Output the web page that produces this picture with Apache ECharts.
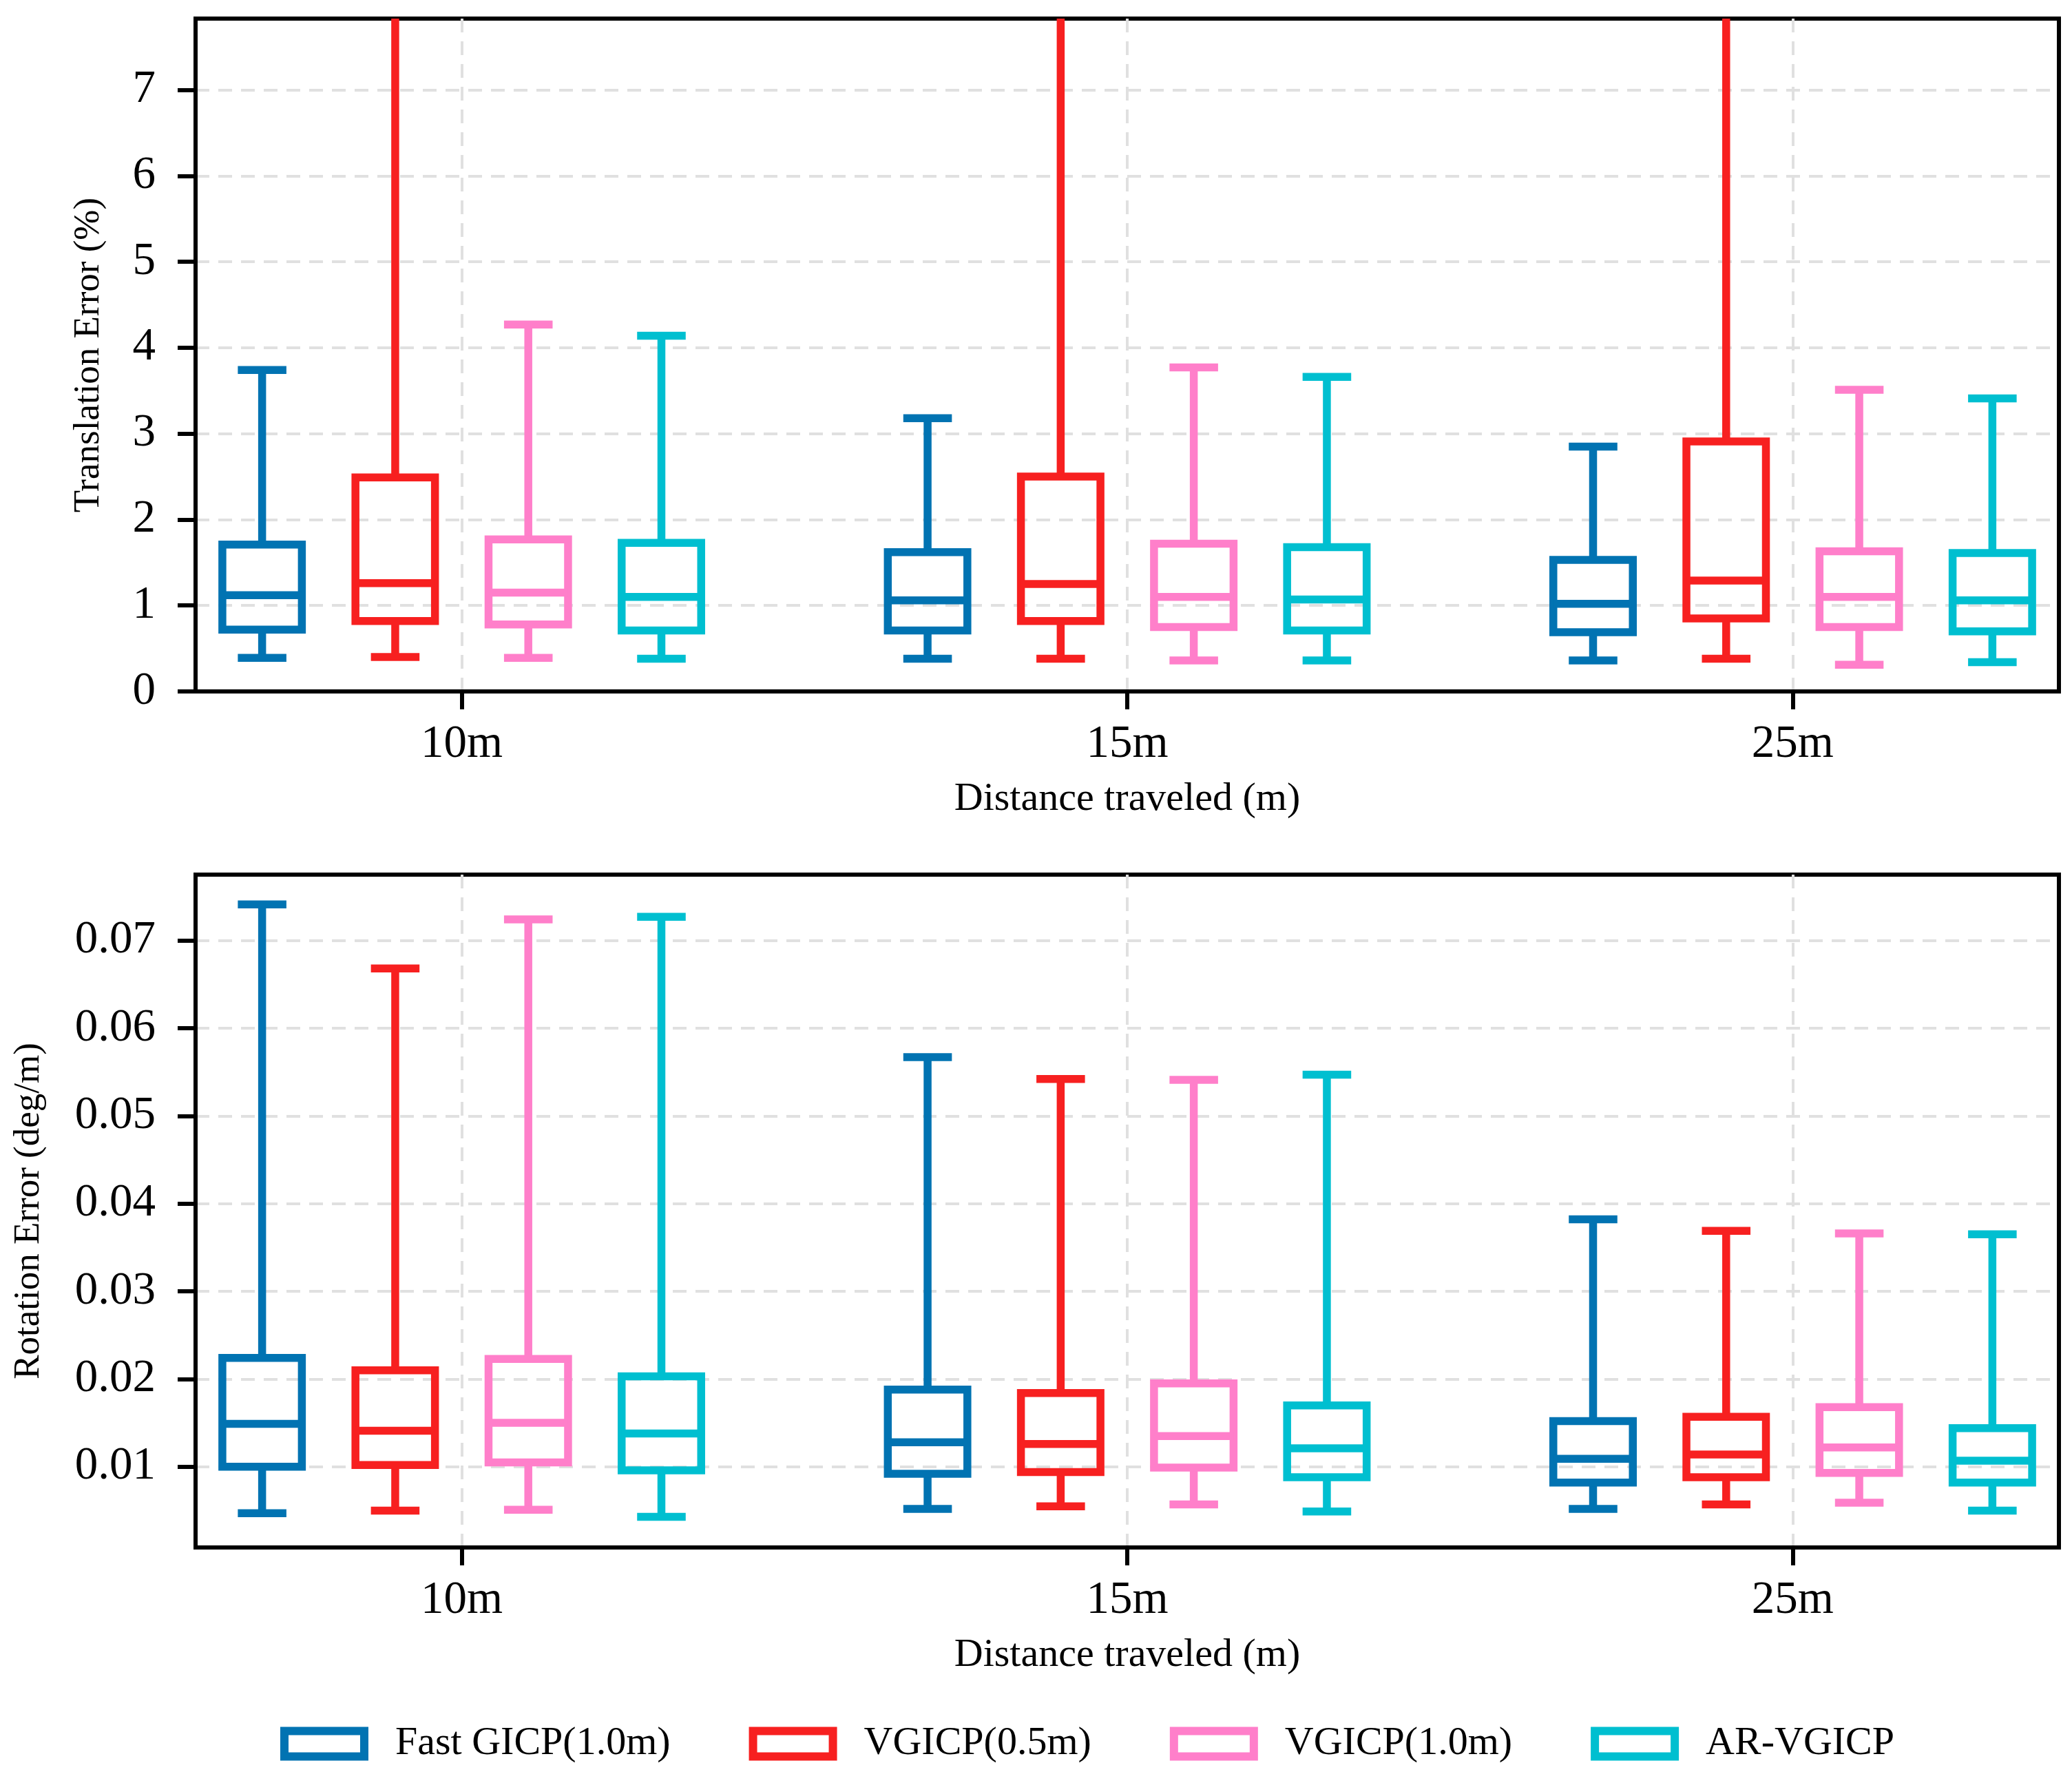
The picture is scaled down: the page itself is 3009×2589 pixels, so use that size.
<!DOCTYPE html>
<html>
<head>
<meta charset="utf-8">
<script src="https://cdn.jsdelivr.net/npm/echarts@6/dist/echarts.min.js"></script>
<style>html,body{margin:0;padding:0;background:#fff}#chart{width:3009px;height:2589px}</style>
</head>
<body>
<div id="chart"></div>
<script>
// ---------------- data ----------------
const categories = ['10m', '15m', '25m'];
const methods = ['Fast GICP(1.0m)', 'VGICP(0.5m)', 'VGICP(1.0m)', 'AR-VGICP'];

// each row: [min, Q1, median, Q3, max] for 10m, 15m, 25m
const transFastGICP10 = [[0.39, 0.72, 1.12, 1.71, 3.74], [0.38, 0.71, 1.06, 1.62, 3.18], [0.36, 0.69, 1.02, 1.53, 2.85]];
const transVGICP05    = [[0.40, 0.82, 1.26, 2.49, 9.50], [0.38, 0.82, 1.25, 2.50, 9.50], [0.38, 0.85, 1.29, 2.91, 9.50]];
const transVGICP10    = [[0.39, 0.78, 1.15, 1.77, 4.27], [0.36, 0.75, 1.10, 1.72, 3.77], [0.31, 0.75, 1.10, 1.63, 3.51]];
const transARVGICP    = [[0.38, 0.71, 1.10, 1.73, 4.14], [0.36, 0.71, 1.07, 1.68, 3.66], [0.34, 0.70, 1.06, 1.61, 3.41]];

const rotFastGICP10 = [[0.0047, 0.0100, 0.0149, 0.0224, 0.0741], [0.0052, 0.0092, 0.0128, 0.0188, 0.0567], [0.0052, 0.0082, 0.0109, 0.0152, 0.0382]];
const rotVGICP05    = [[0.0050, 0.0102, 0.0141, 0.0210, 0.0668], [0.0055, 0.0094, 0.0126, 0.0184, 0.0542], [0.0057, 0.0088, 0.0114, 0.0157, 0.0369]];
const rotVGICP10    = [[0.0051, 0.0105, 0.0150, 0.0223, 0.0724], [0.0057, 0.0099, 0.0135, 0.0195, 0.0541], [0.0059, 0.0093, 0.0122, 0.0168, 0.0366]];
const rotARVGICP    = [[0.0043, 0.0096, 0.0138, 0.0203, 0.0727], [0.0049, 0.0088, 0.0121, 0.0170, 0.0547], [0.0050, 0.0082, 0.0107, 0.0144, 0.0365]];

const transTicks = [0, 1, 2, 3, 4, 5, 6, 7];
const rotTicks = [0.01, 0.02, 0.03, 0.04, 0.05, 0.06, 0.07];
const categoryPositions = [0, 1, 2];

// ---------------- style ----------------
const colors = ['#0173b2', '#f72020', '#ff7fca', '#00bfd0'];
const FONT = 'Liberation Serif';
const BOX_W = 0.1195;
const CAP_W = 0.073;
const LW = 11.5;
const OFFSET_STEP = 0.2;

const transData = [transFastGICP10, transVGICP05, transVGICP10, transARVGICP];
const rotData = [rotFastGICP10, rotVGICP05, rotVGICP10, rotARVGICP];

function toItems(rows, si) {
  return rows.map((r, gi) => [categoryPositions[gi] + (si - 1.5) * OFFSET_STEP].concat(r));
}

function renderBox(params, api) {
  const x = api.value(0);
  const mn = api.value(1), q1 = api.value(2), md = api.value(3), q3 = api.value(4), mx = api.value(5);
  const w = api.size([BOX_W, 0])[0];
  const cw = api.size([CAP_W, 0])[0];
  const pMin = api.coord([x, mn]);
  const pQ1 = api.coord([x, q1]);
  const pMd = api.coord([x, md]);
  const pQ3 = api.coord([x, q3]);
  const pMax = api.coord([x, mx]);
  const color = api.visual('color');
  const ls = { stroke: color, lineWidth: LW, fill: null, lineCap: 'butt', lineJoin: 'miter' };
  const cx = pMin[0];
  return {
    type: 'group',
    children: [
      { type: 'line', shape: { x1: cx, y1: pMin[1], x2: cx, y2: pQ1[1] }, style: ls },
      { type: 'line', shape: { x1: cx, y1: pQ3[1], x2: cx, y2: pMax[1] }, style: ls },
      { type: 'line', shape: { x1: cx - cw / 2, y1: pMin[1], x2: cx + cw / 2, y2: pMin[1] }, style: ls },
      { type: 'line', shape: { x1: cx - cw / 2, y1: pMax[1], x2: cx + cw / 2, y2: pMax[1] }, style: ls },
      { type: 'rect', shape: { x: cx - w / 2, y: pQ3[1], width: w, height: pQ1[1] - pQ3[1] }, style: Object.assign({}, ls, { fill: 'rgba(0,0,0,0)' }) },
      { type: 'line', shape: { x1: cx - w / 2, y1: pMd[1], x2: cx + w / 2, y2: pMd[1] }, style: ls }
    ]
  };
}

const gridLine = { show: true, lineStyle: { color: '#e0e0e0', width: 4, type: [20, 13] } };
const axisLineStyle = { show: true, onZero: false, lineStyle: { color: '#000', width: 6 } };

function xAxisFor(gi) {
  return {
    type: 'value', gridIndex: gi, min: -0.4, max: 2.4,
    axisLine: axisLineStyle,
    axisTick: { show: true, customValues: categoryPositions, length: 26, lineStyle: { color: '#000', width: 6 } },
    axisLabel: {
      customValues: categoryPositions,
      formatter: v => categories[Math.round(v)],
      fontFamily: FONT, fontSize: 67, color: '#000', margin: 44
    },
    splitLine: gridLine,
    name: 'Distance traveled (m)', nameLocation: 'middle', nameGap: 128,
    nameTextStyle: { fontFamily: FONT, fontSize: 58, color: '#000' }
  };
}

const series = [];
methods.forEach((m, si) => {
  series.push({
    name: m, type: 'custom', xAxisIndex: 0, yAxisIndex: 0, clip: true,
    itemStyle: { color: colors[si] },
    encode: { x: 0, y: [1, 2, 3, 4, 5] },
    renderItem: renderBox,
    data: toItems(transData[si], si)
  });
  series.push({
    name: m, type: 'custom', xAxisIndex: 1, yAxisIndex: 1, clip: true,
    itemStyle: { color: colors[si] },
    encode: { x: 0, y: [1, 2, 3, 4, 5] },
    renderItem: renderBox,
    data: toItems(rotData[si], si)
  });
});

const option = {
  backgroundColor: '#fff',
  animation: false,
  grid: [
    { left: 284, width: 2706, top: 27, height: 977, show: true, borderColor: '#000', borderWidth: 6, backgroundColor: 'rgba(0,0,0,0)' },
    { left: 284, width: 2706, top: 1270, height: 977, show: true, borderColor: '#000', borderWidth: 6, backgroundColor: 'rgba(0,0,0,0)' }
  ],
  xAxis: [xAxisFor(0), xAxisFor(1)],
  yAxis: [
    {
      type: 'value', gridIndex: 0, min: 0, max: 7.83,
      axisLine: axisLineStyle,
      axisTick: { show: true, customValues: transTicks, length: 26, lineStyle: { color: '#000', width: 6 } },
      axisLabel: { customValues: transTicks, fontFamily: FONT, fontSize: 67, color: '#000', margin: 58 },
      splitLine: gridLine,
      name: 'Translation Error (%)', nameLocation: 'middle', nameGap: 128,
      nameTextStyle: { fontFamily: FONT, fontSize: 53, color: '#000' }
    },
    {
      type: 'value', gridIndex: 1, min: 0.0008, max: 0.0775,
      axisLine: axisLineStyle,
      axisTick: { show: true, customValues: rotTicks, length: 26, lineStyle: { color: '#000', width: 6 } },
      axisLabel: { customValues: rotTicks, formatter: v => v.toFixed(2), fontFamily: FONT, fontSize: 67, color: '#000', margin: 58 },
      splitLine: gridLine,
      name: 'Rotation Error (deg/m)', nameLocation: 'middle', nameGap: 215,
      nameTextStyle: { fontFamily: FONT, fontSize: 53, color: '#000' }
    }
  ],
  legend: {
    left: 402, top: 2498, orient: 'horizontal',
    itemWidth: 116, itemHeight: 37, itemGap: 114,
    textStyle: { fontFamily: FONT, fontSize: 58, color: '#000', padding: [0, 0, 0, 40] },
    data: methods.map((m, si) => ({
      name: m, icon: 'rect',
      itemStyle: { color: '#fff', borderColor: colors[si], borderWidth: 12 }
    }))
  },
  series: series
};

const chart = echarts.init(document.getElementById('chart'), null, { renderer: 'canvas' });
chart.setOption(option);
</script>
</body>
</html>
